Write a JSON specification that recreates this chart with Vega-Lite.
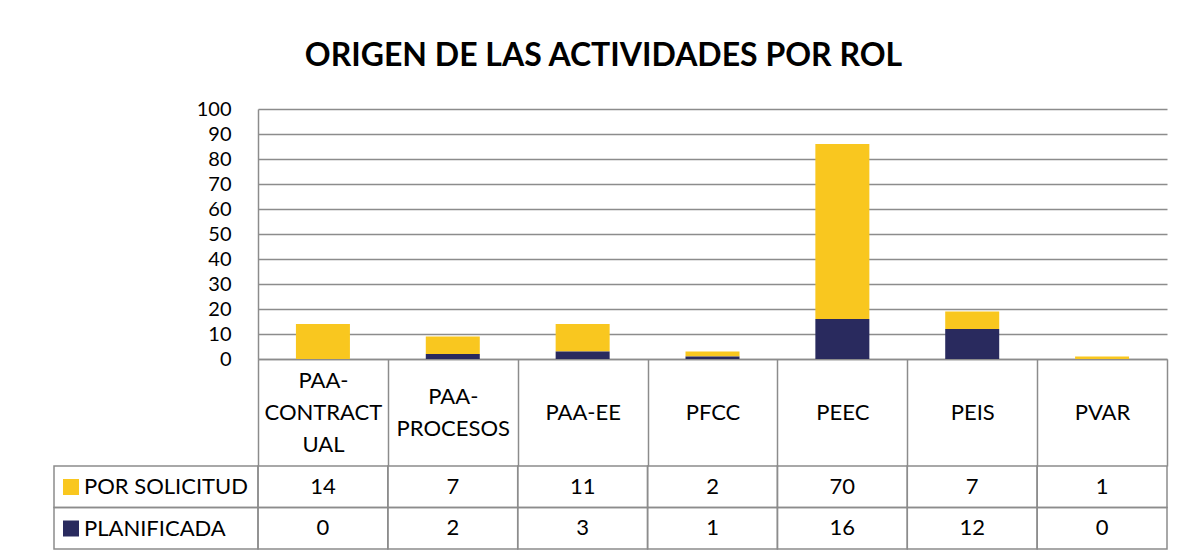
{
  "$schema": "https://vega.github.io/schema/vega-lite/v6.json",
  "background": "white",
  "padding": {"left": 53, "top": 40, "right": 10, "bottom": 4},
  "title": {
    "text": "ORIGEN DE LAS ACTIVIDADES POR ROL",
    "font": "Lato",
    "fontSize": 32,
    "fontWeight": "bold",
    "color": "black",
    "anchor": "middle",
    "offset": 26,
    "dx": -7
  },
  "datasets": {
    "datos": [
      {"rol": "PAA-CONTRACTUAL", "serie": "POR SOLICITUD", "valor": 14},
      {"rol": "PAA-CONTRACTUAL", "serie": "PLANIFICADA", "valor": 0},
      {"rol": "PAA-PROCESOS", "serie": "POR SOLICITUD", "valor": 7},
      {"rol": "PAA-PROCESOS", "serie": "PLANIFICADA", "valor": 2},
      {"rol": "PAA-EE", "serie": "POR SOLICITUD", "valor": 11},
      {"rol": "PAA-EE", "serie": "PLANIFICADA", "valor": 3},
      {"rol": "PFCC", "serie": "POR SOLICITUD", "valor": 2},
      {"rol": "PFCC", "serie": "PLANIFICADA", "valor": 1},
      {"rol": "PEEC", "serie": "POR SOLICITUD", "valor": 70},
      {"rol": "PEEC", "serie": "PLANIFICADA", "valor": 16},
      {"rol": "PEIS", "serie": "POR SOLICITUD", "valor": 7},
      {"rol": "PEIS", "serie": "PLANIFICADA", "valor": 12},
      {"rol": "PVAR", "serie": "POR SOLICITUD", "valor": 1},
      {"rol": "PVAR", "serie": "PLANIFICADA", "valor": 0}
    ]
  },
  "columns": 2,
  "spacing": {"row": 107, "column": 0},
  "bounds": "flush",
  "resolve": {
    "scale": {"x": "independent", "y": "independent", "color": "independent"},
    "legend": {"color": "independent"}
  },
  "concat": [
    {
      "width": 204,
      "height": 250,
      "data": {"values": []},
      "mark": "text"
    },
    {
      "width": 909,
      "height": 250,
      "data": {"name": "datos"},
      "mark": {"type": "bar", "width": 54},
      "encoding": {
        "x": {
          "field": "rol",
          "type": "nominal",
          "sort": ["PAA-CONTRACTUAL", "PAA-PROCESOS", "PAA-EE", "PFCC", "PEEC", "PEIS", "PVAR"],
          "scale": {"paddingInner": 0, "paddingOuter": 0},
          "axis": {
            "title": null,
            "labelAngle": 0,
            "domainColor": "#8c8c8c",
            "domainWidth": 1.5,
            "tickBand": "extent",
            "tickSize": 107,
            "tickColor": "#8c8c8c",
            "tickWidth": 1.5,
            "labelFont": "Lato",
            "labelFontSize": 22,
            "labelColor": "black",
            "labelPadding": {
              "condition": [
                {"test": "datum.value == 'PAA-CONTRACTUAL'", "value": -86},
                {"test": "datum.value == 'PAA-PROCESOS'", "value": -70}
              ],
              "value": -54
            },
            "labelBaseline": "middle",
            "labelLineHeight": 32,
            "labelLimit": 0,
            "labelExpr": "datum.value == 'PAA-CONTRACTUAL' ? ['PAA-', 'CONTRACT', 'UAL'] : datum.value == 'PAA-PROCESOS' ? ['PAA-', 'PROCESOS'] : datum.value"
          }
        },
        "y": {
          "field": "valor",
          "type": "quantitative",
          "stack": "zero",
          "scale": {"domain": [0, 100], "nice": false},
          "axis": {
            "title": null,
            "values": [0, 10, 20, 30, 40, 50, 60, 70, 80, 90, 100],
            "grid": true,
            "gridColor": "#8c8c8c",
            "gridWidth": 1.5,
            "ticks": false,
            "domainColor": "#8c8c8c",
            "domainWidth": 1.5,
            "labelFont": "Lato",
            "labelFontSize": 20,
            "labelColor": "black",
            "labelPadding": 27,
            "labelBaseline": "middle"
          }
        },
        "color": {
          "field": "serie",
          "type": "nominal",
          "scale": {"domain": ["POR SOLICITUD", "PLANIFICADA"], "range": ["#F9C71F", "#292A5E"]},
          "legend": {
            "orient": "none",
            "legendX": -198,
            "legendY": 367,
            "title": null,
            "direction": "vertical",
            "symbolType": "square",
            "symbolSize": 256,
            "symbolStrokeWidth": 0,
            "labelFont": "Lato",
            "labelFontSize": 22,
            "labelColor": "black",
            "labelOffset": 2,
            "labelLimit": 0,
            "rowPadding": 19.5,
            "padding": 0
          }
        },
        "order": {"field": "serie", "sort": "ascending"}
      }
    },
    {
      "width": 204,
      "height": 83,
      "data": {"name": "datos"},
      "transform": [{"aggregate": [{"op": "count", "as": "n"}], "groupby": ["serie"]}],
      "mark": {"type": "rect", "fill": "transparent", "stroke": "#8c8c8c", "strokeWidth": 1.5},
      "encoding": {
        "y": {"field": "serie", "type": "nominal", "sort": ["POR SOLICITUD", "PLANIFICADA"], "axis": null}
      }
    },
    {
      "width": 909,
      "height": 83,
      "data": {"name": "datos"},
      "encoding": {
        "x": {
          "field": "rol",
          "type": "nominal",
          "sort": ["PAA-CONTRACTUAL", "PAA-PROCESOS", "PAA-EE", "PFCC", "PEEC", "PEIS", "PVAR"],
          "scale": {"paddingInner": 0, "paddingOuter": 0},
          "axis": null
        },
        "y": {"field": "serie", "type": "nominal", "sort": ["POR SOLICITUD", "PLANIFICADA"], "axis": null}
      },
      "layer": [
        {"mark": {"type": "rect", "fill": "transparent", "stroke": "#8c8c8c", "strokeWidth": 1.5}},
        {
          "mark": {"type": "text", "font": "Lato", "fontSize": 22, "color": "black"},
          "encoding": {"text": {"field": "valor", "type": "quantitative"}}
        }
      ]
    }
  ],
  "config": {
    "view": {"stroke": null},
    "font": "Lato"
  }
}
